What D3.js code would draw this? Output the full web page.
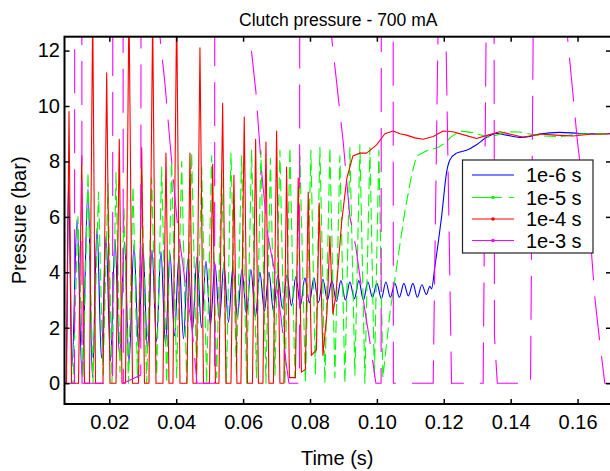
<!DOCTYPE html>
<html>
<head>
<meta charset="utf-8">
<script src="https://cdn.jsdelivr.net/npm/d3@7"></script>
<style>
  html, body { margin: 0; padding: 0; background: #fff; }
  svg { display: block; }
  text { font-family: "Liberation Sans", Arial, Helvetica, sans-serif; fill: #000; }
</style>
</head>
<body>
<svg id="chart" width="610" height="471"></svg>
<script>
// Clutch pressure response at 700 mA, simulated with four solver step sizes.
const seriesNames = ["1e-6 s", "1e-5 s", "1e-4 s", "1e-3 s"];

const xTicks = [0.02, 0.04, 0.06, 0.08, 0.10, 0.12, 0.14, 0.16];
const xTickLabels = ["0.02", "0.04", "0.06", "0.08", "0.10", "0.12", "0.14", "0.16"];
const yTicks = [0, 2, 4, 6, 8, 10, 12];
const yTickLabels = ["0", "2", "4", "6", "8", "10", "12"];

// step 1e-6 s
const blueT = [0.0066, 0.00705, 0.0078, 0.00885, 0.01034, 0.01183, 0.01363, 0.01497, 0.01632, 0.01766,
  0.01901, 0.02035, 0.0217, 0.02304, 0.02454, 0.02588, 0.02738, 0.02872, 0.03007, 0.03141,
  0.03276, 0.0341, 0.03544, 0.03679, 0.03813, 0.03948, 0.04082, 0.04217, 0.04351, 0.04486,
  0.0462, 0.04755, 0.04889, 0.05024, 0.05158, 0.05293, 0.05427, 0.05562, 0.05696, 0.05831,
  0.05965, 0.061, 0.06234, 0.06369, 0.06503, 0.06638, 0.06772, 0.06907, 0.07041, 0.07176,
  0.0731, 0.07445, 0.07579, 0.07714, 0.07848, 0.07983, 0.08117, 0.08252, 0.08386, 0.08521,
  0.08655, 0.0879, 0.08924, 0.09059, 0.09193, 0.09328, 0.09462, 0.09597, 0.09731, 0.09866,
  0.1, 0.10134, 0.10269, 0.10403, 0.10538, 0.10672, 0.10807, 0.10941, 0.11076, 0.1121,
  0.11345, 0.11479, 0.11584, 0.11635, 0.11733, 0.11832, 0.11934, 0.12083, 0.12182, 0.12382,
  0.12681, 0.1298, 0.13279, 0.13577, 0.13876, 0.14274, 0.14573, 0.14871, 0.15469, 0.16067,
  0.16665, 0.17];
const blueV = [0, 0, 7.2, 0.6, 5.9, 0.3, 7.0, 0.2, 5.6, 0.9,
  5.3, 0.8, 5.2, 1.0, 5.1, 0.7, 5.0, 1.3, 4.9, 1.2,
  4.8, 1.5, 4.75, 1.4, 4.7, 1.7, 4.6, 1.6, 4.5, 1.9,
  4.55, 2.0, 4.4, 2.1, 4.3, 2.3, 4.3, 2.2, 4.2, 2.4,
  4.1, 2.5, 4.1, 2.4, 4.0, 2.6, 4.0, 2.6, 3.9, 2.7,
  3.9, 2.8, 3.85, 2.8, 3.8, 2.9, 3.8, 2.9, 3.75, 3.0,
  3.7, 2.95, 3.7, 3.0, 3.65, 3.05, 3.7, 3.0, 3.65, 3.1,
  3.6, 3.05, 3.65, 3.1, 3.6, 3.1, 3.6, 3.15, 3.6, 3.1,
  3.55, 3.2, 3.5, 3.4, 4.2, 5.05, 6.0, 7.6, 8.05, 8.3,
  8.4, 8.6, 8.87, 9.01, 8.95, 8.87, 8.9, 8.99, 9.05, 9.01,
  9.0, 9.0];

// step 1e-5 s
const greenT = [0.0066, 0.00915, 0.01064, 0.01213, 0.01363, 0.01512, 0.01677, 0.01811, 0.01961, 0.0208,
  0.022, 0.02319, 0.02439, 0.02573, 0.02708, 0.02842, 0.02968, 0.03117, 0.03267, 0.03416,
  0.03565, 0.03715, 0.03864, 0.04014, 0.04163, 0.04313, 0.04462, 0.04611, 0.04761, 0.0491,
  0.0506, 0.05209, 0.05359, 0.05502, 0.05637, 0.05801, 0.05956, 0.06106, 0.06255, 0.06399,
  0.06533, 0.06683, 0.06817, 0.06952, 0.07101, 0.07251, 0.074, 0.07549, 0.07699, 0.07863,
  0.08027, 0.08162, 0.08297, 0.08446, 0.08595, 0.08745, 0.08894, 0.09044, 0.09193, 0.09343,
  0.09492, 0.09641, 0.09791, 0.09925, 0.1006, 0.10179, 0.10388, 0.10627, 0.10837, 0.11037,
  0.11186, 0.11524, 0.11823, 0.12083, 0.12182, 0.12481, 0.12869, 0.13377, 0.13876, 0.14274,
  0.14871, 0.15469, 0.16067, 0.17];
const greenV = [0, 0, 6.0, 0.2, 7.6, 0, 6.9, 0.3, 7.2, 0,
  7.6, 0.4, 6.3, 0, 7.1, 0.2, 7.5, 0, 7.4, 0.3,
  7.8, 0, 8.0, 0.2, 8.0, 0, 8.3, 0.3, 7.8, 0,
  8.2, 0.2, 7.7, 0, 8.3, 0.3, 8.2, 0, 8.4, 0.2,
  8.4, 0, 8.1, 0.3, 8.4, 0, 8.5, 0.2, 8.2, 0,
  8.4, 0.3, 8.5, 0, 8.5, 0.2, 8.2, 0, 8.5, 0.3,
  8.6, 0, 8.5, 0.2, 8.4, 0.2, 2.5, 4.5, 6.2, 7.5,
  8.2, 8.4, 8.5, 8.7, 8.85, 9.1, 9.04, 8.87, 9.07, 9.06,
  8.92, 8.9, 8.99, 9.0];

// step 1e-4 s
const redT = [0.0066, 0.0072, 0.00795, 0.0087, 0.01079, 0.01175, 0.01258, 0.01408, 0.01503, 0.01587,
  0.01811, 0.01922, 0.0202, 0.022, 0.02298, 0.02379, 0.02484, 0.02588, 0.02693, 0.02872,
  0.02968, 0.03051, 0.03186, 0.03296, 0.03395, 0.03604, 0.03694, 0.03784, 0.03903, 0.04014,
  0.04112, 0.04322, 0.04411, 0.04501, 0.04605, 0.0471, 0.04815, 0.04994, 0.0509, 0.05173,
  0.05278, 0.05388, 0.05487, 0.05637, 0.05726, 0.05816, 0.05935, 0.06034, 0.0613, 0.06279,
  0.06375, 0.06458, 0.06593, 0.06683, 0.06772, 0.06907, 0.07002, 0.07101, 0.0722, 0.07301,
  0.07385, 0.07564, 0.07648, 0.07744, 0.07863, 0.07947, 0.08042, 0.08192, 0.08275, 0.08386,
  0.08506, 0.08595, 0.08685, 0.08775, 0.08945, 0.09103, 0.09283, 0.09492, 0.09692, 0.09991,
  0.10239, 0.10487, 0.10687, 0.10887, 0.11136, 0.11384, 0.11683, 0.11981, 0.12271, 0.1263,
  0.1298, 0.13317, 0.13676, 0.14005, 0.14372, 0.14871, 0.1535, 0.15858, 0.16366, 0.16865,
  0.17];
const redV = [0, 0, 9.8, 0, 0, 8.2, 0, 0, 13.5, 0,
  0, 11.2, 0, 0, 8.8, 0, 0, 13.8, 0, 0,
  8.5, 0, 0, 13.2, 0, 0, 8.3, 0, 0, 13.6,
  0, 0, 8.3, 0, 0, 12.1, 0, 0, 7.9, 0,
  0, 10.1, 0, 0, 7.5, 0, 0, 9.6, 0, 0,
  8.8, 0, 0, 8.7, 0, 0, 9.1, 0, 0, 7.8,
  0.2, 0.2, 7.4, 0.4, 0.5, 6.9, 1.0, 1.2, 6.5, 1.0,
  2.5, 5.3, 2.5, 3.2, 5.8, 7.4, 8.2, 8.3, 8.3, 8.6,
  9.0, 9.1, 9.0, 8.95, 8.85, 8.8, 8.9, 9.1, 9.07, 8.95,
  8.83, 8.95, 9.07, 8.98, 8.87, 8.99, 8.95, 8.92, 8.98, 8.99,
  9.0];

// step 1e-3 s (unstable: excursions far above the plotted range)
const magentaT = [0.0066, 0.00959, 0.0098, 0.01163, 0.01184, 0.02098, 0.02119, 0.02397, 0.02418, 0.02941,
  0.02959, 0.03335, 0.03515, 0.03664, 0.03813, 0.04023, 0.04263, 0.04471, 0.04621, 0.05146,
  0.05167, 0.06025, 0.06204, 0.06384, 0.06563, 0.06742, 0.06951, 0.07131, 0.0728, 0.0737,
  0.07687, 0.07708, 0.08476, 0.08646, 0.08993, 0.09193, 0.09372, 0.09522, 0.09671, 0.09791,
  0.0997, 0.10126, 0.10146, 0.10472, 0.10493, 0.11683, 0.11883, 0.12032, 0.12232, 0.13177,
  0.13303, 0.13497, 0.13515, 0.13601, 0.14594, 0.14707, 0.15529, 0.15699, 0.15998, 0.16216,
  0.16417, 0.16515, 0.16644, 0.16814, 0.17];
const magentaV = [0, 0, 45, 50, 0, 0, 48, 44, 0, 0.3,
  40, 22, 12.5, 10.8, 8.7, 5.9, 3.7, 2.0, 0, 0,
  42, 20, 12.5, 10.5, 7.5, 5.3, 4.0, 2.4, 0.8, 0,
  0, 45, 20, 12.5, 8.7, 6.0, 4.9, 3.6, 2.4, 1.5,
  0, 0, 50, 46, 0, 0, 17.5, 15, 0, 0,
  18, 22, 1.7, 0, 0, 18, 21, 12.5, 8.7, 6.5,
  4.7, 3.1, 1.7, 0, 0];

const seriesColors = ["#0000ff", "#00ff00", "#ff0000", "#ff00ff"];

const svg = d3.select("#chart");
const plotLeft = 64.5, plotRight = 611, plotTop = 36.7, plotBottom = 404;

const x = d3.scaleLinear().domain([0.0066, 0.17]).range([plotLeft, plotRight]);
const y = d3.scaleLinear().domain([-0.75, 12.5]).range([plotBottom, plotTop]);

svg.append("defs").append("clipPath").attr("id", "plotClip")
  .append("rect").attr("x", plotLeft).attr("y", plotTop)
  .attr("width", plotRight - plotLeft).attr("height", plotBottom - plotTop);

const plot = svg.append("g").attr("clip-path", "url(#plotClip)");

const series = [
  { pts: d3.zip(blueT, blueV), curve: d3.curveMonotoneX, dash: null },
  { pts: d3.zip(greenT, greenV), curve: d3.curveLinear, dash: "12,5" },
  { pts: d3.zip(redT, redV), curve: d3.curveLinear, dash: null },
  { pts: d3.zip(magentaT, magentaV), curve: d3.curveLinear, dash: "44,16" }
];

series.forEach((s, i) => {
  const line = d3.line().x(d => x(d[0])).y(d => y(d[1])).curve(s.curve);
  plot.append("path")
    .attr("d", line(s.pts))
    .attr("fill", "none")
    .attr("stroke", seriesColors[i])
    .attr("stroke-width", 1.1)
    .attr("stroke-linejoin", "round")
    .attr("stroke-dasharray", s.dash);
});

// axes with inward ticks on all four sides
const fmtX = (d, i) => xTickLabels[i];
const fmtY = (d, i) => yTickLabels[i];

const gx = svg.append("g").attr("transform", `translate(0,${plotBottom})`)
  .call(d3.axisBottom(x).tickValues(xTicks).tickFormat(fmtX).tickSizeInner(-5).tickSizeOuter(0).tickPadding(11));
const gxt = svg.append("g").attr("transform", `translate(0,${plotTop})`)
  .call(d3.axisTop(x).tickValues(xTicks).tickFormat("").tickSizeInner(-5).tickSizeOuter(0));
const gy = svg.append("g").attr("transform", `translate(${plotLeft},0)`)
  .call(d3.axisLeft(y).tickValues(yTicks).tickFormat(fmtY).tickSizeInner(-5).tickSizeOuter(0).tickPadding(4.5));
const gyr = svg.append("g").attr("transform", `translate(${plotRight},0)`)
  .call(d3.axisRight(y).tickValues(yTicks).tickFormat("").tickSizeInner(-5).tickSizeOuter(0));

[gx, gxt, gy, gyr].forEach(g => {
  g.select(".domain").remove();
  g.selectAll(".tick line").attr("stroke", "#000").attr("stroke-width", 1.5);
  g.selectAll(".tick text").attr("font-size", 20).attr("fill", "#000")
    .attr("font-family", '"Liberation Sans", Arial, Helvetica, sans-serif');
});

svg.append("rect")
  .attr("x", plotLeft).attr("y", plotTop)
  .attr("width", plotRight - plotLeft).attr("height", plotBottom - plotTop)
  .attr("fill", "none").attr("stroke", "#000").attr("stroke-width", 2);

// titles
svg.append("text").attr("x", (plotLeft + 610) / 2 + 1).attr("y", 26)
  .attr("text-anchor", "middle").attr("font-size", 17.5)
  .text("Clutch pressure - 700 mA");
svg.append("text").attr("x", (plotLeft + 610) / 2).attr("y", 465)
  .attr("text-anchor", "middle").attr("font-size", 20)
  .text("Time (s)");
svg.append("text")
  .attr("transform", `translate(26,${(plotTop + plotBottom) / 2}) rotate(-90)`)
  .attr("text-anchor", "middle").attr("font-size", 20)
  .text("Pressure (bar)");

// legend
const legend = svg.append("g");
legend.append("rect")
  .attr("x", 462.5).attr("y", 160).attr("width", 130.5).attr("height", 93)
  .attr("fill", "#fff").attr("stroke", "#222").attr("stroke-width", 1.2);
const rowY = [175, 197.5, 219, 240.5];
const legendDash = [null, "30,7", null, null];
seriesNames.forEach((name, i) => {
  legend.append("line")
    .attr("x1", 472).attr("x2", 514).attr("y1", rowY[i]).attr("y2", rowY[i])
    .attr("stroke", seriesColors[i]).attr("stroke-width", 1.1)
    .attr("stroke-dasharray", legendDash[i]);
  if (i > 0) {
    legend.append("circle").attr("cx", 493).attr("cy", rowY[i]).attr("r", 1.8)
      .attr("fill", seriesColors[i]);
  }
  legend.append("text").attr("x", 526).attr("y", rowY[i] + 7)
    .attr("font-size", 20).text(name);
});
</script>
</body>
</html>
